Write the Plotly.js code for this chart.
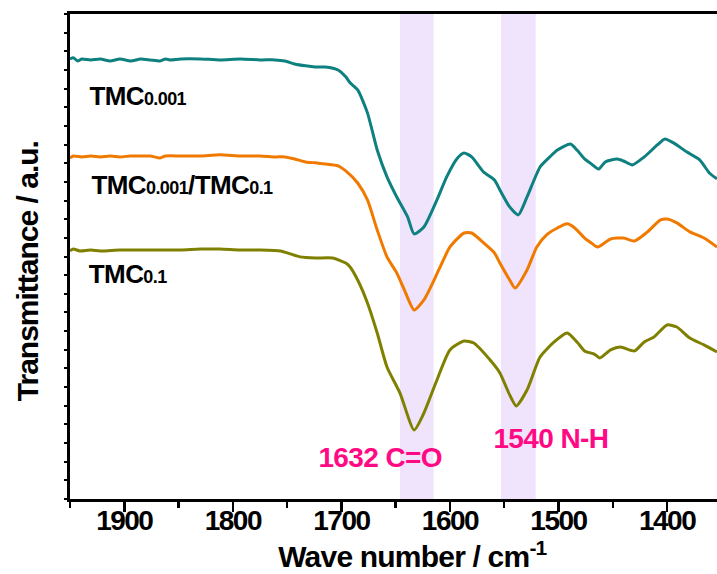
<!DOCTYPE html>
<html>
<head>
<meta charset="utf-8">
<script src="https://cdn.plot.ly/plotly-3.0.1.min.js"></script>
<style>
html,body{margin:0;padding:0;background:#fff;}
#chart{width:717px;height:574px;}
#chart .xtick text{letter-spacing:-1.5px;}
#chart .g-xtitle text{letter-spacing:-0.8px;}
#chart .g-ytitle text{letter-spacing:-1px;}
#chart .annotation-text{letter-spacing:-0.6px;}
</style>
</head>
<body>
<div id="chart"></div>
<script>
// Wavenumbers (cm^-1) and transmittance (a.u., offset traces)
const wnTMC001 = [1950,1947,1943,1939,1931,1922,1913,1904,1894,1885,1876,1867,1862,1858,1848,1830,1812,1793,1775,1761,1752,1743,1733,1724,1715,1703,1696,1692,1685,1676,1667,1658,1649,1639,1633,1624,1612,1603,1593,1587,1580,1569,1559,1554,1545,1537,1529,1517,1508,1501,1489,1483,1476,1471,1463,1457,1446,1440,1432,1421,1409,1402,1394,1382,1370,1361,1354];
const tTMC001 = [23.59,23.66,23.48,23.59,23.54,23.59,23.48,23.59,23.48,23.59,23.54,23.48,23.59,23.54,23.59,23.59,23.54,23.59,23.54,23.54,23.48,23.32,23.22,23.16,23.16,23.00,22.63,22.31,21.93,20.70,18.71,17.27,16.19,15.12,14.21,14.58,16.03,17.27,18.28,18.55,18.34,17.53,17.10,16.57,15.66,15.23,16.19,17.80,18.34,18.71,19.03,18.71,18.23,18.02,17.69,18.07,18.23,18.12,17.91,18.34,18.98,19.30,19.09,18.61,18.18,17.48,17.16];

const wnMix = [1950,1947,1939,1931,1922,1913,1904,1894,1885,1876,1867,1862,1848,1830,1812,1793,1775,1761,1752,1743,1733,1724,1715,1703,1696,1685,1676,1667,1658,1649,1642,1633,1624,1619,1609,1600,1587,1580,1569,1559,1554,1545,1540,1529,1520,1511,1501,1492,1485,1476,1471,1464,1452,1440,1430,1418,1406,1400,1391,1379,1366,1354];
const tMix = [18.28,18.39,18.34,18.39,18.34,18.39,18.34,18.39,18.39,18.39,18.28,18.39,18.39,18.39,18.45,18.39,18.39,18.34,18.34,18.23,18.07,18.02,17.96,17.86,17.59,16.94,16.03,14.42,12.98,12.12,11.21,10.13,10.67,11.21,12.44,13.51,14.26,14.26,13.73,13.19,12.65,11.74,11.31,12.28,13.51,14.16,14.53,14.75,14.53,13.99,13.78,13.51,13.94,13.99,13.83,14.32,14.96,15.01,14.80,14.32,13.99,13.51];

const wnTMC01 = [1950,1947,1941,1931,1922,1904,1885,1867,1848,1830,1812,1793,1775,1756,1747,1738,1724,1708,1696,1692,1685,1676,1667,1658,1646,1633,1624,1612,1600,1587,1578,1563,1554,1545,1539,1529,1517,1504,1492,1483,1476,1467,1462,1452,1443,1430,1421,1412,1400,1391,1379,1366,1354];
const tTMC01 = [13.30,13.40,13.30,13.35,13.30,13.35,13.35,13.35,13.35,13.40,13.40,13.35,13.35,13.30,13.14,12.98,12.92,12.92,12.65,12.44,11.74,10.51,8.90,7.08,5.68,3.70,4.61,6.38,7.99,8.47,8.36,7.45,6.76,5.58,4.99,5.84,7.61,8.42,8.90,8.42,7.94,7.77,7.56,7.99,8.15,7.94,8.42,8.69,9.33,9.22,8.63,8.26,7.88];

const seriesNames = ['TMC0.001', 'TMC0.001/TMC0.1', 'TMC0.1'];
const xTicks = [1900, 1800, 1700, 1600, 1500, 1400];
const bands = [[1646, 1615], [1553, 1521]];
const bandLabels = ['1632 C=O', '1540 N-H'];

const FONT = 'Liberation Sans, Arial, sans-serif';

const traces = [
  {x: wnTMC001, y: tTMC001, name: seriesNames[0], line: {color: '#0e8080', width: 3, shape: 'spline', smoothing: 0.6}},
  {x: wnMix, y: tMix, name: seriesNames[1], line: {color: '#f07a00', width: 3, shape: 'spline', smoothing: 0.6}},
  {x: wnTMC01, y: tTMC01, name: seriesNames[2], line: {color: '#808000', width: 3, shape: 'spline', smoothing: 0.6}}
].map(t => Object.assign({type: 'scatter', mode: 'lines', hoverinfo: 'skip'}, t));

const sub = s => '<span style="font-size:18px">' + s + '</span>';

const labelFont = {family: FONT, size: 26, color: '#000', weight: 700};
const pinkFont = {family: FONT, size: 28, color: '#ff0a84', weight: 700};

const annotations = [
  {x: 1936, y: 21.6, text: 'TMC' + sub('0.001'), xanchor: 'left', yanchor: 'middle', font: labelFont},
  {x: 1936, y: 16.84, text: 'TMC' + sub('0.001') + '/TMC' + sub('0.1'), xanchor: 'left', yanchor: 'middle', font: labelFont},
  {x: 1936, y: 12.06, text: 'TMC' + sub('0.1'), xanchor: 'left', yanchor: 'middle', font: labelFont},
  {x: 1664, y: 2.2, text: bandLabels[0], xanchor: 'center', yanchor: 'middle', font: pinkFont},
  {x: 1507, y: 3.27, text: bandLabels[1], xanchor: 'center', yanchor: 'middle', font: pinkFont}
].map(a => Object.assign({xref: 'x', yref: 'y', showarrow: false}, a));

const shapes = bands.map(b => ({
  type: 'rect', xref: 'x', yref: 'paper', x0: b[0], x1: b[1], y0: 0, y1: 1,
  fillcolor: '#f0e4fc', line: {width: 0}, layer: 'below'
}));

const layout = {
  width: 717, height: 574,
  margin: {l: 70, r: 0, t: 14, b: 75},
  paper_bgcolor: '#fff', plot_bgcolor: '#fff',
  showlegend: false,
  xaxis: {
    range: [1950, 1354], tickvals: xTicks, ticktext: xTicks.map(String),
    ticks: 'outside', ticklen: 10, tickwidth: 2.5, tickcolor: '#000',
    ticklabelstandoff: -16,
    minor: {dtick: 50, tick0: 1950, ticks: 'outside', ticklen: 6, tickwidth: 2.5, tickcolor: '#000'},
    showline: true, linewidth: 3, linecolor: '#000', mirror: true,
    showgrid: false, zeroline: false,
    tickfont: {family: FONT, size: 28, color: '#000', weight: 700},
    title: {text: '&nbsp;&nbsp;&nbsp;&nbsp;&nbsp;Wave number / cm<sup>-1</sup>', font: {family: FONT, size: 30, color: '#000', weight: 700}, standoff: 0}
  },
  yaxis: {
    range: [0, 26], dtick: 1, tick0: 0,
    ticks: 'outside', ticklen: 3, tickwidth: 2, tickcolor: '#000',
    showticklabels: false,
    showline: true, linewidth: 3, linecolor: '#000', mirror: false,
    showgrid: false, zeroline: false,
    title: {text: 'Transmittance / a.u.&nbsp;&nbsp;&nbsp;&nbsp;', font: {family: FONT, size: 30, color: '#000', weight: 700}, standoff: 17}
  },
  shapes: shapes,
  annotations: annotations
};

Plotly.newPlot('chart', traces, layout, {staticPlot: true, displayModeBar: false});
</script>
</body>
</html>
